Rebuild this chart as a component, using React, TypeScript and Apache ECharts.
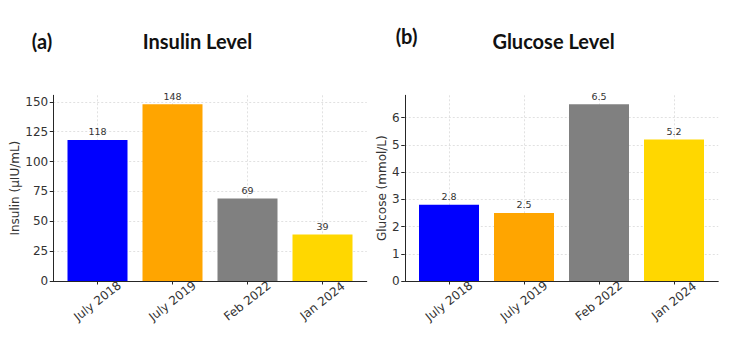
import React, { useEffect, useRef } from 'react';
import * as echarts from 'echarts';

// Sampling dates shared by both panels
const categories = ['July 2018', 'July 2019', 'Feb 2022', 'Jan 2024'];
// Fasting insulin (µIU/mL) and glucose (mmol/L) at each date
const insulinValues = [118, 148, 69, 39];
const glucoseValues = [2.8, 2.5, 6.5, 5.2];
const barColors = ['#0000FF', '#FFA500', '#808080', '#FFD700'];
const insulinTicks = [0, 25, 50, 75, 100, 125, 150];
const glucoseTicks = [0, 1, 2, 3, 4, 5, 6];

const FONT = "'DejaVu Sans', sans-serif";
const TITLE_FONT = "bold 20px Lato, 'Open Sans', sans-serif";
const BAR_FRACTION = 0.8;
const GRID_TOP = 95.3;
const GRID_HEIGHT = 185.7;
const GRID_WIDTH = 313.5;

// Category positions as 0..n-1 with a 5% margin around the bars
const barHalf = BAR_FRACTION / 2;
const span = categories.length - 1 + BAR_FRACTION;
const xMin = -barHalf - span * 0.05;
const xMax = categories.length - 1 + barHalf + span * 0.05;
const barPx = (BAR_FRACTION * GRID_WIDTH) / (xMax - xMin);
const catPositions = categories.map((_, i) => i);

const axisColor = '#262626';
const gridLine = { show: true, lineStyle: { color: '#d9d9d9', type: [2, 2] as number[], width: 0.8 } };

function panelAxes(gridIndex: number, ticks: number[], maxValue: number, name: string, nameGap: number) {
  const xAxis = {
    type: 'value',
    gridIndex,
    min: xMin,
    max: xMax,
    axisLine: { show: true, onZero: false, lineStyle: { color: axisColor, width: 1 } },
    axisTick: { show: true, customValues: catPositions, length: 3.5, lineStyle: { color: axisColor } },
    axisLabel: {
      customValues: catPositions,
      formatter: (v: number) => categories[Math.round(v)],
      rotate: 38,
      align: 'center',
      verticalAlign: 'middle',
      margin: 20,
      fontFamily: FONT,
      fontSize: 12,
      color: '#333',
    },
    splitLine: gridLine,
  };
  const yAxis = {
    type: 'value',
    gridIndex,
    min: 0,
    max: maxValue * 1.05,
    name,
    nameLocation: 'middle',
    nameGap,
    nameTextStyle: { fontFamily: FONT, fontSize: 12, color: '#333' },
    axisLine: { show: true, onZero: false, lineStyle: { color: axisColor, width: 1 } },
    axisTick: { show: true, customValues: ticks, length: 3.5, lineStyle: { color: axisColor } },
    axisLabel: { customValues: ticks, margin: 5, fontFamily: FONT, fontSize: 12, color: '#333' },
    splitLine: gridLine,
  };
  return { xAxis, yAxis };
}

function barSeries(gridIndex: number, values: number[]) {
  return {
    type: 'bar',
    xAxisIndex: gridIndex,
    yAxisIndex: gridIndex,
    barWidth: barPx,
    data: values.map((v, i) => ({ value: [catPositions[i], v], itemStyle: { color: barColors[i] } })),
    label: {
      show: true,
      position: 'top',
      distance: 3,
      formatter: (p: any) => String(values[p.dataIndex]),
      fontFamily: FONT,
      fontSize: 9.5,
      color: '#333',
    },
  };
}

export default function App() {
  const ref = useRef<HTMLDivElement>(null);

  useEffect(() => {
    document.body.style.margin = '0';
    if (!ref.current) return;
    const chart = echarts.init(ref.current, undefined, { renderer: 'svg' });

    const a = panelAxes(0, insulinTicks, Math.max(...insulinValues), 'Insulin (µIU/mL)', 31);
    const b = panelAxes(1, glucoseTicks, Math.max(...glucoseValues), 'Glucose (mmol/L)', 16);

    chart.setOption({
      animation: false,
      backgroundColor: '#ffffff',
      grid: [
        { left: 53.25, top: GRID_TOP, width: GRID_WIDTH, height: GRID_HEIGHT },
        { left: 404.75, top: GRID_TOP, width: GRID_WIDTH, height: GRID_HEIGHT },
      ],
      xAxis: [a.xAxis, b.xAxis],
      yAxis: [a.yAxis, b.yAxis],
      series: [barSeries(0, insulinValues), barSeries(1, glucoseValues)],
      graphic: [
        { type: 'text', x: 42, y: 41, style: { text: '(a)', font: TITLE_FONT, fill: '#111', textAlign: 'center', textVerticalAlign: 'middle' } },
        { type: 'text', x: 197.5, y: 41, style: { text: 'Insulin Level', font: TITLE_FONT, fill: '#111', textAlign: 'center', textVerticalAlign: 'middle' } },
        { type: 'text', x: 406.5, y: 36, style: { text: '(b)', font: TITLE_FONT, fill: '#111', textAlign: 'center', textVerticalAlign: 'middle' } },
        { type: 'text', x: 553.5, y: 41, style: { text: 'Glucose Level', font: TITLE_FONT, fill: '#111', textAlign: 'center', textVerticalAlign: 'middle' } },
      ],
    });

    return () => chart.dispose();
  }, []);

  return <div ref={ref} style={{ width: 750, height: 345 }} />;
}
